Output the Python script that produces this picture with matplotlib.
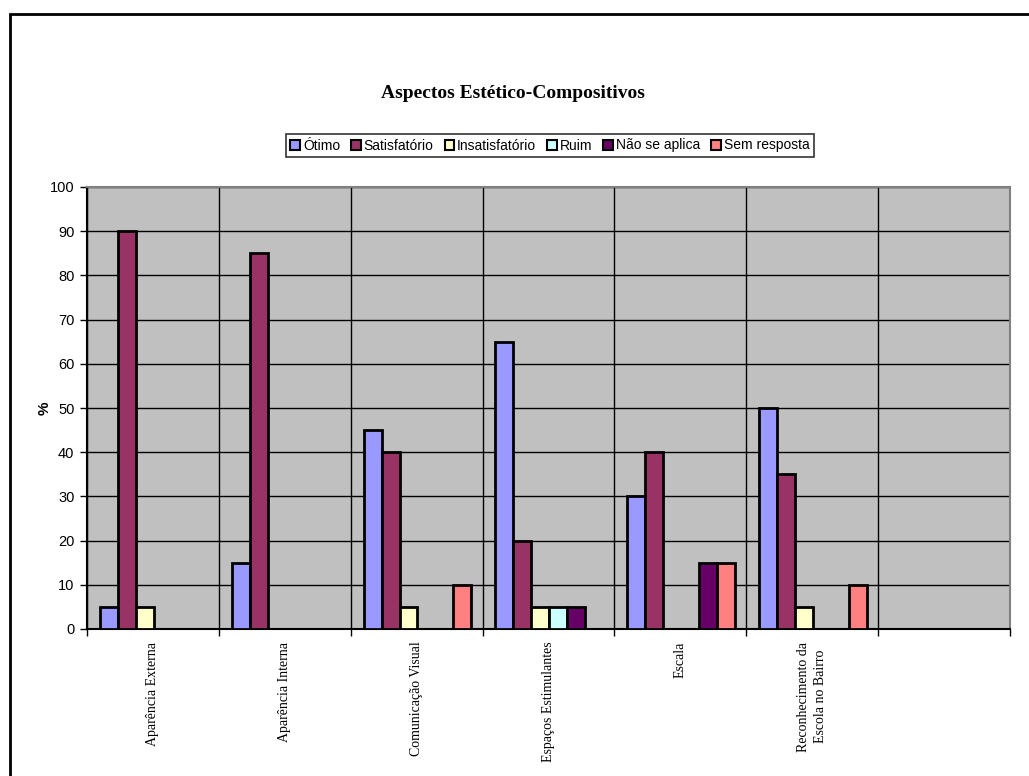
import numpy as np
import matplotlib
matplotlib.use('Agg')
import matplotlib.pyplot as plt
from matplotlib.patches import Rectangle, Patch

categories = ['Aparência Externa', 'Aparência Interna', 'Comunicação Visual',
              'Espaços Estimulantes', 'Escala',
              'Reconhecimento da\nEscola no Bairro', '']
series_names = ['Ótimo', 'Satisfatório', 'Insatisfatório', 'Ruim',
                'Não se aplica', 'Sem resposta']
otimo = [5, 15, 45, 65, 30, 50, 0]
satisfatorio = [90, 85, 40, 20, 40, 35, 0]
insatisfatorio = [5, 0, 5, 5, 0, 5, 0]
ruim = [0, 0, 0, 5, 0, 0, 0]
nao_se_aplica = [0, 0, 0, 5, 15, 0, 0]
sem_resposta = [0, 0, 10, 0, 15, 10, 0]
yticks = list(range(0, 101, 10))

series = [otimo, satisfatorio, insatisfatorio, ruim, nao_se_aplica, sem_resposta]
colors = ['#9999FF', '#993366', '#FFFFCC', '#CCFFFF', '#660066', '#FF8080']

sans = ['Liberation Sans', 'DejaVu Sans']
serif = ['Liberation Serif', 'DejaVu Serif']

fig = plt.figure(figsize=(10.29, 7.76), dpi=100)
ax = fig.add_axes([87 / 1029, 1 - 629 / 776, 923 / 1029, 442 / 776])
ax.set_facecolor('#C0C0C0')

# outer chart frame
fig.patches.append(Rectangle((9.5 / 1029, -0.05), 1.1, 1 - 13.5 / 776 + 0.05,
                             transform=fig.transFigure, fill=False,
                             edgecolor='black', linewidth=2, zorder=0))

n = len(categories)
bw = 0.1365
offset = 0.097
x = np.arange(n)
for k, (vals, col, name) in enumerate(zip(series, colors, series_names)):
    # zero values are left out, as in the spreadsheet chart
    pos = [x[i] + offset + k * bw for i in range(n) if vals[i] > 0]
    hts = [v for v in vals if v > 0]
    ax.bar(pos, hts, width=bw, align='edge', color=col, edgecolor='black',
           linewidth=2, zorder=3, label=name)

ax.set_xlim(0, n)
ax.set_ylim(0, 100)
ax.set_yticks(yticks)
ax.set_yticklabels([str(t) for t in yticks], family=sans, fontsize=10.5)
ax.set_xticks(np.arange(n + 1))
ax.set_xticklabels([])
ax.set_xticks(x + 0.5, minor=True)
ax.set_xticklabels(categories, minor=True, rotation=90, family=serif,
                   fontsize=10, va='top', ha='center', linespacing=1.45)
ax.tick_params(axis='x', which='minor', length=0, pad=9)
ax.tick_params(axis='x', which='major', length=5, direction='out', width=1)
ax.tick_params(axis='y', length=5, direction='out', width=1, pad=4)

ax.grid(True, which='major', color='black', linewidth=1, zorder=1)
ax.set_axisbelow(True)
for s in ['top', 'right']:
    ax.spines[s].set_color('#808080')
    ax.spines[s].set_linewidth(1.5)
for s in ['left', 'bottom']:
    ax.spines[s].set_color('black')
    ax.spines[s].set_linewidth(1.5)

ax.set_ylabel('%', family=sans, fontsize=11, fontweight='bold')
ax.yaxis.set_label_coords(-35 / 923, 0.5)

fig.text(513 / 1029, 1 - 93 / 776, 'Aspectos Estético-Compositivos',
         family=serif, fontsize=14, fontweight='bold', ha='center', va='center')

handles = [Patch(facecolor=c, edgecolor='black', linewidth=1.5) for c in colors]
leg = fig.legend(handles, series_names, loc='center',
                 bbox_to_anchor=(550 / 1029, 1 - 145.5 / 776), ncol=6,
                 prop={'family': sans, 'size': 10}, frameon=True, fancybox=False,
                 edgecolor='black', handlelength=0.7, handleheight=0.7,
                 handletextpad=0.2, columnspacing=0.8, borderpad=0.3,
                 borderaxespad=0)
leg.get_frame().set_linewidth(1.2)

fig.savefig('out.png', dpi=100)
